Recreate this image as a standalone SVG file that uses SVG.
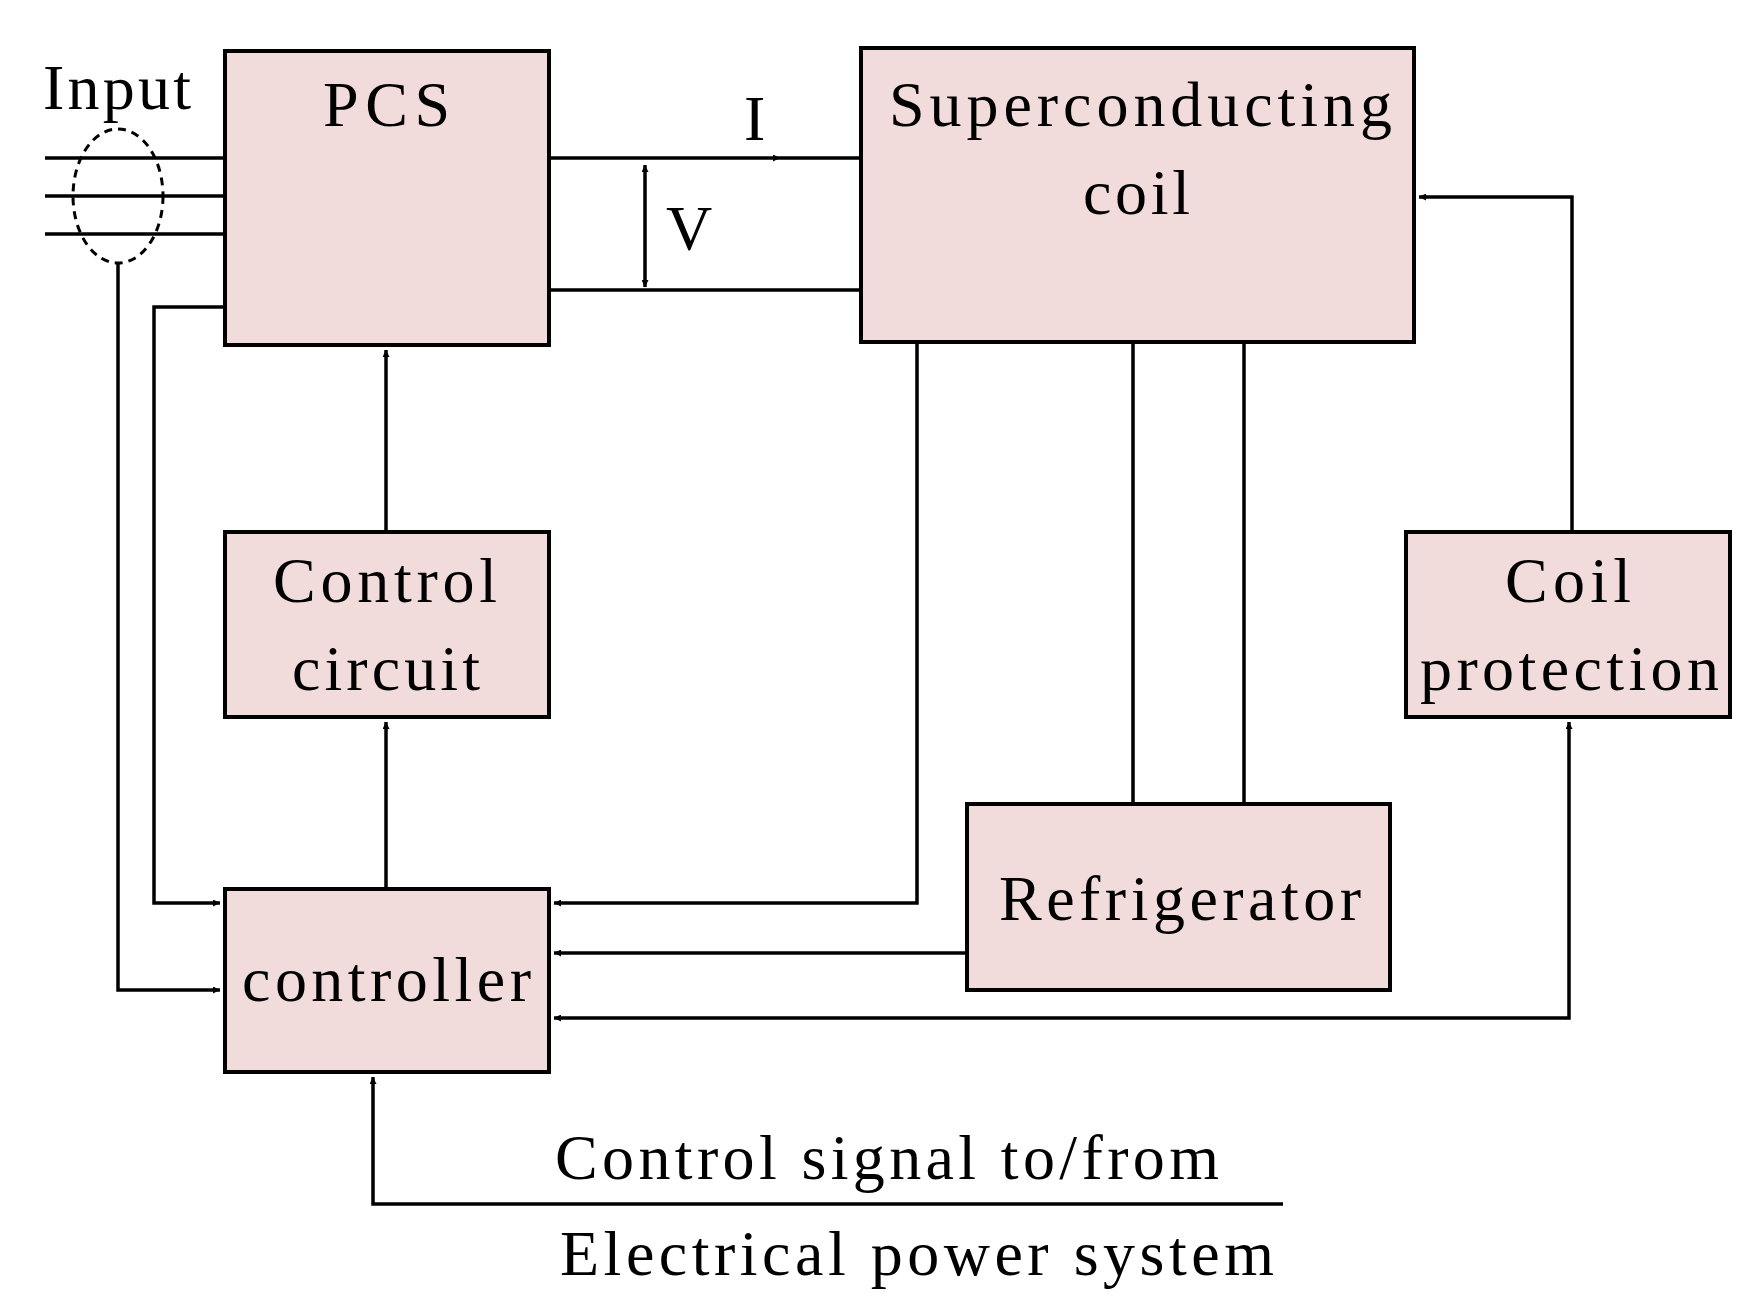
<svg xmlns="http://www.w3.org/2000/svg" width="1755" height="1306" viewBox="0 0 1755 1306">
<defs>
<style>
.box{fill:#f2dcdb;stroke:#000;stroke-width:4}
.ln{fill:none;stroke:#000;stroke-width:3.5}
text{font-family:"Liberation Serif","Times New Roman",serif;font-size:64px;fill:#000}
</style>
<marker id="ah" viewBox="0 0 10 10" refX="10" refY="5" markerWidth="7" markerHeight="7" markerUnits="userSpaceOnUse" orient="auto-start-reverse">
<path d="M0,0 L10,5 L0,10 Z" fill="#000"/>
</marker>
</defs>
<style>.m{marker-end:url(#ah)}</style>
<rect width="1755" height="1306" fill="#fff"/>
<g id="connectors">
<path class="ln" d="M45,158H225M45,196H225M45,234H225"/>
<ellipse cx="118" cy="196" rx="45" ry="67" fill="none" stroke="#000" stroke-width="3" stroke-dasharray="8,6"/>
<path class="ln" d="M118,263V990H220" marker-end="url(#ah)" style="marker-end:url(#ah)"/>
<path class="ln" d="M225,307H154V903H220" style="marker-end:url(#ah)"/>
<path class="ln" d="M549,158H780" style="marker-end:url(#ah)"/>
<path class="ln" d="M780,158H978a12,12 0 0 1 0,24"/>
<path class="ln" d="M990,170c0,0 -5,20 -20,22c-22,2 -22,-22 0,-22c22,0 22,30 0,30c-22,0 -22,-22 0,-22c22,0 22,30 0,30c-22,0 -22,-22 0,-22c22,0 22,30 0,30c-22,0 -22,-22 0,-22c22,0 22,30 0,30M970,256c15,0 20,10 20,22v0a12,12 0 0 1 -12,12H549"/>
<path class="ln" d="M645,165V287" style="marker-start:url(#ah);marker-end:url(#ah)"/>
<path class="ln" d="M313,236H459"/>
<path d="M371,220L405,236L371,252Z" fill="#000"/>
<path class="ln" d="M405,218V256M405,236L418,214"/>
<path class="ln" d="M386,532V350" style="marker-end:url(#ah)"/>
<path class="ln" d="M386,889V722" style="marker-end:url(#ah)"/>
<path class="ln" d="M917,342V903H554" style="marker-end:url(#ah)"/>
<path class="ln" d="M1133,804V342M1244,804V342"/>
<path class="ln" d="M967,953H554" style="marker-end:url(#ah)"/>
<path class="ln" d="M554,1018H1569V722" style="marker-start:url(#ah);marker-end:url(#ah)"/>
<path class="ln" d="M1572,532V197H1419" style="marker-end:url(#ah)"/>
<path class="ln" d="M1283,1204H373V1077" style="marker-end:url(#ah)"/>
</g>
<g id="pcs"><rect class="box" x="225" y="51" width="324" height="294"/><text x="323" y="126" textLength="127">PCS</text></g>
<g id="coil"><rect class="box" x="861" y="48" width="553" height="294"/><text x="889" y="126" textLength="503">Superconducting</text><text x="1083" y="214" textLength="107">coil</text></g>
<g id="control-circuit"><rect class="box" x="225" y="532" width="324" height="185"/><text x="273" y="602" textLength="224">Control</text><text x="292" y="690" textLength="188">circuit</text></g>
<g id="controller"><rect class="box" x="225" y="889" width="324" height="183"/><text x="242" y="1001" textLength="289">controller</text></g>
<g id="refrigerator"><rect class="box" x="967" y="804" width="423" height="186"/><text x="999" y="920" textLength="362">Refrigerator</text></g>
<g id="coil-protection"><rect class="box" x="1406" y="532" width="324" height="185"/><text x="1505" y="602" textLength="126">Coil</text><text x="1420" y="690" textLength="299">protection</text></g>
<g id="labels">
<text x="43" y="109" textLength="148">Input</text>
<text x="744" y="140">I</text>
<text x="666" y="250">V</text>
<text x="555" y="1179" textLength="664">Control signal to/from</text>
<text x="560" y="1275" textLength="714">Electrical power system</text>
</g>
<path d="" class="m"/>
</svg>
